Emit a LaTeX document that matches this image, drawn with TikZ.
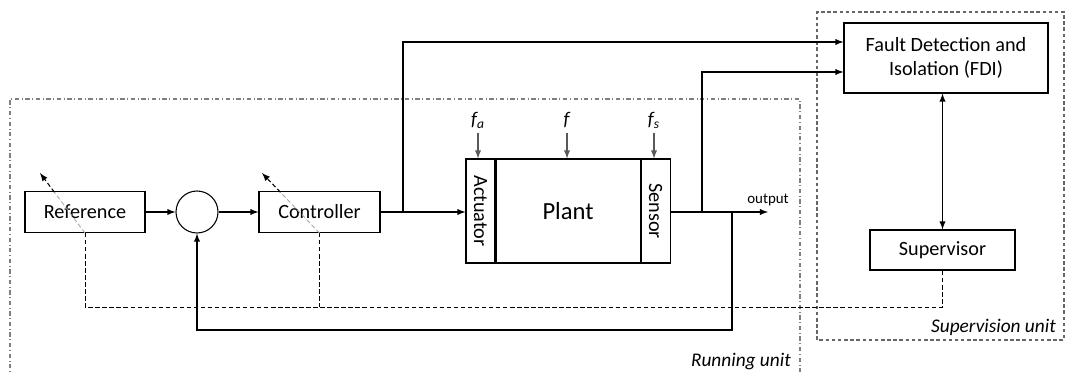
\documentclass[tikz,border=0pt]{standalone}
\usepackage{fontspec}
\setmainfont{Carlito}
\usepackage{tikz}
\usetikzlibrary{positioning,shapes,arrows,calc}

\tikzset{
    blk/.style={draw,semithick,minimum height=0.82cm,inner sep=2pt,font=\fontsize{11.5}{13.5}\selectfont},
    sig/.style={semithick,-latex},
    fault/.style={semithick,black!65,-latex},
    adj/.style={line width=0.5pt,dash pattern=on 2.5pt off 1.5pt},
    unitlabel/.style={font=\fontsize{11}{13}\selectfont\itshape,anchor=east}
}

\begin{document}
\begin{tikzpicture}
        \useasboundingbox (0,0) rectangle (21.34,7.48);
        % Running unit and supervision unit
        \draw[black!50,semithick,dash pattern=on 2.5pt off 1.5pt on 0.5pt off 1.5pt] (0.2,-0.1) rectangle (16,5.5);
        \node[unitlabel] (runlbl) at (15.94,0.24) {Running unit};
        \draw[black!60,semithick,dash pattern=on 2pt off 1.5pt] (16.34,0.68) rectangle (21.28,7.24);
        \node[unitlabel] (suplbl) at (21.24,0.94) {Supervision unit};

        % Loop blocks
        \node[blk,minimum width=2.4cm] (ref) at (1.7,3.24) {Reference};
        \node[circle,draw,semithick,minimum size=0.84cm,inner sep=0pt] (sum) at (3.94,3.24) {};
        \node[blk,minimum width=2.42cm] (ctrl) at (6.39,3.24) {Controller};

        % Plant with actuator and sensor
        \node[draw,semithick,minimum width=0.58cm,minimum height=2.08cm,inner sep=0pt] (act) at (9.61,3.26) {};
        \node[draw,semithick,minimum width=2.88cm,minimum height=2.08cm,inner sep=0pt,right=0pt of act,font=\fontsize{14}{16}\selectfont] (plant) {Plant};
        \node[draw,semithick,minimum width=0.58cm,minimum height=2.08cm,inner sep=0pt,right=0pt of plant] (sen) {};
        \node[rotate=-90,font=\fontsize{11.5}{13}\selectfont] (acttxt) at (act) {Actuator};
        \node[rotate=-90,font=\fontsize{11.5}{13}\selectfont] (sentxt) at (sen) {Sensor};

        % Faults
        \node[font=\fontsize{11}{13}\selectfont] (fa) at (9.56,5.08) {\textit{f\textsubscript{a}}};
        \node[font=\fontsize{11}{13}\selectfont] (fp) at (11.34,5.08) {\textit{f}};
        \node[font=\fontsize{11}{13}\selectfont] (fs) at (13.08,5.08) {\textit{f\textsubscript{s}}};
        \draw[fault] ([yshift=-0.26cm]fa.center) -- (fa.center |- act.north);
        \draw[fault] ([yshift=-0.26cm]fp.center) -- (fp.center |- plant.north);
        \draw[fault] ([yshift=-0.26cm]fs.center) -- (fs.center |- sen.north);

        % Supervision blocks
        \node[blk,minimum width=4.08cm,minimum height=1.4cm,align=center] (fdi) at (18.92,6.32) {Fault Detection and\\Isolation (FDI)};
        \node[blk,minimum width=2.9cm,minimum height=0.8cm] (sup) at (18.85,2.48) {Supervisor};

        % Signal path
        \coordinate (b1) at (8.06,3.24);
        \coordinate (b2) at (14.04,3.24);
        \coordinate (b3) at (14.64,3.24);
        \coordinate (out) at (15.36,3.24);
        \coordinate (fb) at (14.64,0.88);
        \coordinate (bus) at (0,1.34);
        \coordinate (in1) at ($(fdi.west)+(0,0.32)$);
        \coordinate (in2) at ($(fdi.west)+(0,-0.28)$);
        \draw[sig] (ref) -- (sum);
        \draw[sig] (sum) -- (ctrl);
        \draw[sig] (ctrl.east) -- (act.west |- ctrl.east);
        \draw[sig] (sen.east |- out) -- (out) node[above,font=\fontsize{8.5}{10}\selectfont] {output};
        \draw[sig] (b3) -- (fb) -| (sum.south);
        % To FDI
        \draw[sig] (b1) |- (in1);
        \draw[sig] (b2) |- (in2);
        \draw[semithick,latex-latex] (sup.north) -- (sup.north |- fdi.south);

        % Adjustments from supervisor
        \draw[adj] (ref.south) -- (ref.south |- bus) -| (sup.south);
        \draw[adj] (ctrl.south) -- (ctrl.south |- bus);
        \coordinate (reftip) at (0.8,4.02);
        \coordinate (ctrltip) at (5.24,4.02);
        \draw[adj,black!35] (ref.south) -- ($(ref.south)!0.68!(reftip)$);
        \draw[adj,semithick,-latex] ($(ref.south)!0.68!(reftip)$) -- (reftip);
        \draw[adj,black!35] (ctrl.south) -- ($(ctrl.south)!0.68!(ctrltip)$);
        \draw[adj,semithick,-latex] ($(ctrl.south)!0.68!(ctrltip)$) -- (ctrltip);
    \end{tikzpicture}
\end{document}
